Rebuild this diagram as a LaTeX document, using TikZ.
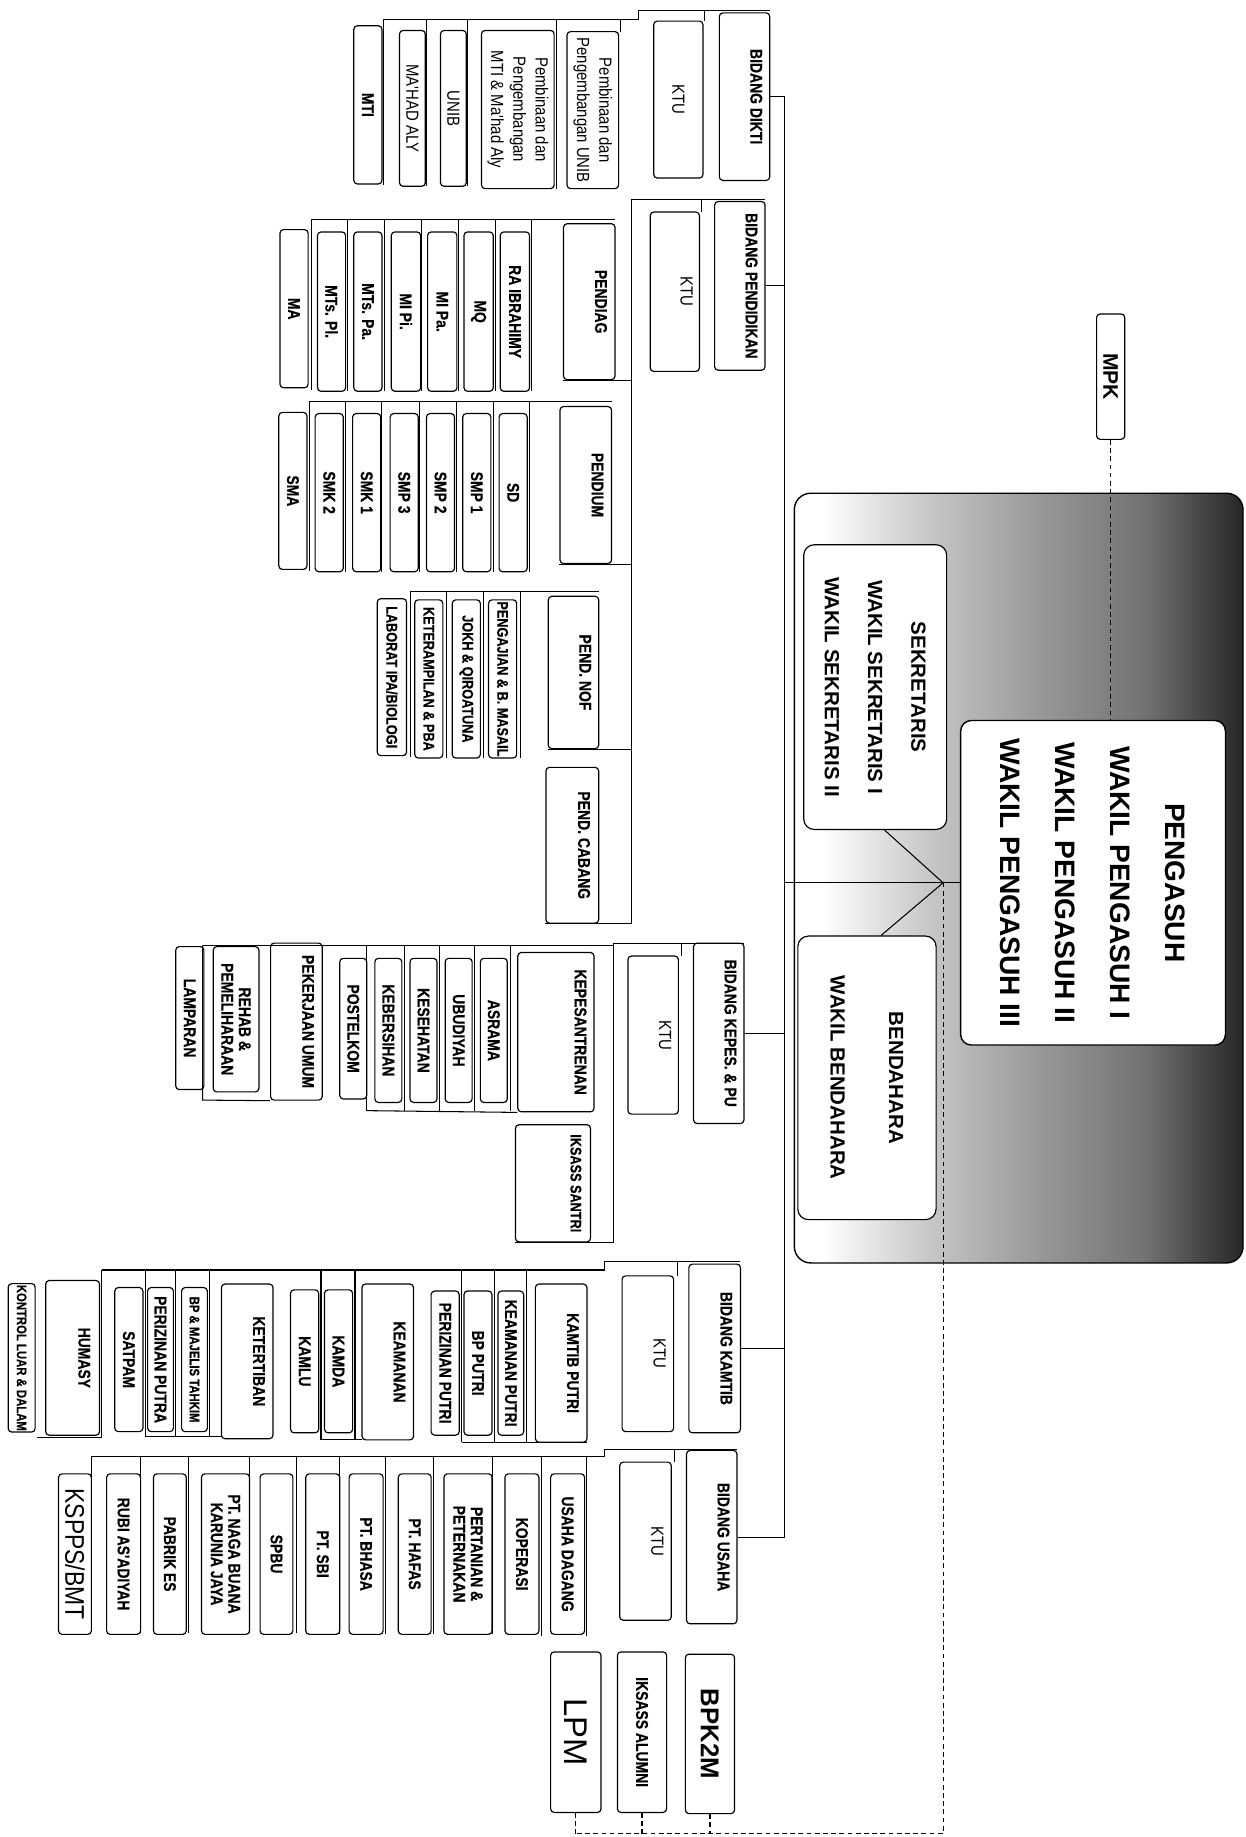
\documentclass[tikz,border=0pt]{standalone}
\usepackage{fontspec}
\newfontfamily\narrowfont[FakeStretch=0.82, FakeBold=0.4]{Liberation Sans}
\newfontfamily\plainfont[FakeStretch=0.85]{Liberation Sans}
\newfontfamily\headfont{Liberation Sans}
\usetikzlibrary{calc}
\pgfdeclarehorizontalshading{grayfade}{100bp}{color(0bp)=(white); color(28bp)=(white); color(40bp)=(black!22); color(52bp)=(black!40); color(64bp)=(black!55); color(75bp)=(black!85); color(100bp)=(black!85)}
\tikzset{
	unit/.style={draw, line width=1pt, rounded corners=3pt, rotate=-90, fill=white, inner sep=1pt, align=center, font=\narrowfont\bfseries\fontsize{14.5}{15}\selectfont},
	lifted/.style={text height=10pt, text depth=#1},
	tight/.style={font=\narrowfont\bfseries\fontsize{13.2}{14}\selectfont},
	tighter/.style={font=\narrowfont\bfseries\fontsize{11.8}{13}\selectfont},
	soft/.style={font=\plainfont\fontsize{15}{19}\selectfont},
	chief/.style={unit, rounded corners=9pt, line width=1.2pt, font=\headfont\bfseries\fontsize{24}{47}\selectfont},
	deputy/.style={unit, rounded corners=9pt, font=\headfont\bfseries\fontsize{17.5}{37}\selectfont},
	dashlink/.style={dash pattern=on 4pt off 3pt, line width=0.9pt}
}
\begin{document}
\begin{tikzpicture}[x=1pt, y=-1pt, line width=0.9pt]
	\useasboundingbox (0,0) rectangle (1063,1568);
	\fill[white] (0,0) rectangle (1063,1568);

	% pengasuh block
	\shadedraw[shading=grayfade, rounded corners=14pt, line width=1.2pt] (678,421) rectangle (1061,1078);
	\node[chief, minimum width=277, minimum height=226] (pengasuh) at (933,753.5) {PENGASUH\\WAKIL PENGASUH I\\WAKIL PENGASUH II\\WAKIL PENGASUH III};
	\node[deputy, minimum width=243, minimum height=122] (sekretaris) at (747,586.5) {SEKRETARIS\\WAKIL SEKRETARIS I\\WAKIL SEKRETARIS II};
	\node[deputy, font=\headfont\bfseries\fontsize{17.5}{50}\selectfont, minimum width=242, minimum height=118] (bendahara) at (740,920) {BENDAHARA\\WAKIL BENDAHARA};
	\node[unit, font=\headfont\bfseries\fontsize{18}{20}\selectfont, minimum width=107, minimum height=24] (mpk) at (948,321.5) {MPK};

	% bidang dikti
	\node[unit, lifted=20pt, minimum width=143, minimum height=43] (dikti) at (635.5,82.5) {BIDANG DIKTI};
	\node[unit, soft, minimum width=134, minimum height=42] (ktuA) at (579,85) {KTU};
	\node[unit, soft, minimum width=134, minimum height=44] (pembunib) at (506,94) {Pembinaan dan\\Pengembangan UNIB};
	\node[unit, soft, minimum width=135, minimum height=62] (pembmti) at (442,93.5) {Pembinaan dan\\Pengembangan\\MTI \& Ma'had Aly};
	\node[unit, soft, minimum width=133, minimum height=22] (unib) at (387,92.5) {UNIB};
	\node[unit, soft, minimum width=133, minimum height=22] (mahad) at (352,92.5) {MA'HAD ALY};
	\node[unit, minimum width=135, minimum height=24] (mti) at (314,89.5) {MTI};

	% bidang pendidikan
	\node[unit, lifted=20pt, minimum width=144, minimum height=43] (pendidikan) at (631.5,244) {BIDANG PENDIDIKAN};
	\node[unit, soft, lifted=20pt, minimum width=136, minimum height=42] (ktuB) at (576,249) {KTU};
	\node[unit, lifted=20pt, minimum width=133, minimum height=44] (pendiag) at (503,257.5) {PENDIAG};
	\node[unit, minimum width=136, minimum height=25] (ra) at (439.5,266) {RA IBRAHIMY};
	\node[unit, minimum width=136, minimum height=25] (mq) at (408.5,266) {MQ};
	\node[unit, minimum width=136, minimum height=25] (mipa) at (377.5,266) {MI Pa.};
	\node[unit, minimum width=136, minimum height=25] (mipi) at (346.5,266) {MI Pi.};
	\node[unit, minimum width=136, minimum height=24] (mtspa) at (314,266) {MTs. Pa.};
	\node[unit, minimum width=136, minimum height=24] (mtspl) at (283,266) {MTs. Pl.};
	\node[unit, minimum width=135, minimum height=24] (ma) at (251,263.5) {MA};
	\node[unit, lifted=20pt, minimum width=134, minimum height=44] (pendium) at (500,414) {PENDIUM};
	\node[unit, minimum width=135, minimum height=24] (sd) at (438,420.5) {SD};
	\node[unit, minimum width=135, minimum height=24] (smpa) at (407,420.5) {SMP 1};
	\node[unit, minimum width=135, minimum height=24] (smpb) at (376,420.5) {SMP 2};
	\node[unit, minimum width=135, minimum height=24] (smpc) at (345,420.5) {SMP 3};
	\node[unit, minimum width=135, minimum height=24] (smka) at (313,420.5) {SMK 1};
	\node[unit, minimum width=135, minimum height=24] (smkb) at (281,420.5) {SMK 2};
	\node[unit, minimum width=134, minimum height=24] (sma) at (250,419) {SMA};
	\node[unit, lifted=20pt, minimum width=130, minimum height=43] (pendnof) at (489.5,574) {PEND. NOF};
	\node[unit, tight, minimum width=135, minimum height=24] (pengajian) at (429,579.5) {PENGAJIAN \& B. MASAIL};
	\node[unit, tight, minimum width=135, minimum height=24] (jokh) at (398,579.5) {JOKH \& QIROATUNA};
	\node[unit, tight, minimum width=135, minimum height=24] (terampil) at (366,579.5) {KETERAMPILAN \& PBA};
	\node[unit, tight, minimum width=134, minimum height=25] (laborat) at (334.5,578) {LABORAT IPA/BIOLOGI};
	\node[unit, lifted=20pt, minimum width=133, minimum height=45] (pendcabang) at (488.5,721.5) {PEND. CABANG};

	% bidang kepesantrenan dan pu
	\node[unit, lifted=20pt, minimum width=154, minimum height=43] (kepes) at (613.5,882) {BIDANG KEPES. \& PU};
	\node[unit, soft, lifted=20pt, minimum width=135, minimum height=43] (ktuC) at (557.5,883.5) {KTU};
	\node[unit, lifted=42pt, minimum width=136, minimum height=65] (kepesantrenan) at (474.5,881) {KEPESANTRENAN};
	\node[unit, minimum width=123, minimum height=23] (asrama) at (421.5,879.5) {ASRAMA};
	\node[unit, minimum width=123, minimum height=23] (ubudiyah) at (391.5,879.5) {UBUDIYAH};
	\node[unit, minimum width=123, minimum height=23] (kesehatan) at (361.5,879.5) {KESEHATAN};
	\node[unit, minimum width=123, minimum height=23] (kebersihan) at (331.5,879.5) {KEBERSIHAN};
	\node[unit, minimum width=120, minimum height=23] (postelkom) at (301.5,878) {POSTELKOM};
	\node[unit, lifted=20pt, minimum width=134, minimum height=44] (pekerjaan) at (253,872) {PEKERJAAN UMUM};
	\node[unit, minimum width=124, minimum height=39] (rehab) at (201.5,870) {REHAB \&\\PEMELIHARAAN};
	\node[unit, minimum width=122, minimum height=24] (lamparan) at (162,869) {LAMPARAN};
	\node[unit, tight, lifted=40pt, minimum width=100, minimum height=64] (iksassS) at (472,1010) {IKSASS SANTRI};

	% bidang kamtib
	\node[unit, lifted=20pt, minimum width=144, minimum height=44] (kamtib) at (610,1151) {BIDANG KAMTIB};
	\node[unit, soft, lifted=20pt, minimum width=133, minimum height=44] (ktuD) at (553,1155.5) {KTU};
	\node[unit, lifted=20pt, minimum width=135, minimum height=44] (kamtibputri) at (479,1163.5) {KAMTIB PUTRI};
	\node[unit, minimum width=123, minimum height=22] (keamputri) at (436,1163.5) {KEAMANAN PUTRI};
	\node[unit, minimum width=123, minimum height=24] (bpputri) at (408,1163.5) {BP PUTRI};
	\node[unit, minimum width=123, minimum height=24] (perizputri) at (380,1163.5) {PERIZINAN PUTRI};
	\node[unit, lifted=20pt, minimum width=133, minimum height=44] (keamanan) at (331,1162.5) {KEAMANAN};
	\node[unit, minimum width=122, minimum height=24] (kamda) at (289,1162) {KAMDA};
	\node[unit, minimum width=122, minimum height=24] (kamlu) at (260,1162) {KAMLU};
	\node[unit, lifted=20pt, minimum width=132, minimum height=44] (ketertiban) at (211,1162) {KETERTIBAN};
	\node[unit, tighter, minimum width=123, minimum height=22] (bpmajelis) at (166,1160.5) {BP \& MAJELIS TAHKIM};
	\node[unit, minimum width=123, minimum height=22] (perizputra) at (137,1160.5) {PERIZINAN PUTRA};
	\node[unit, minimum width=123, minimum height=24] (satpam) at (110,1160.5) {SATPAM};
	\node[unit, lifted=20pt, minimum width=132, minimum height=46] (humasy) at (62,1159) {HUMASY};
	\node[unit, tighter, minimum width=124, minimum height=23] (kontrol) at (18.5,1159) {KONTROL LUAR \& DALAM};

	% bidang usaha
	\node[unit, lifted=20pt, minimum width=148, minimum height=43] (usaha) at (607.5,1312) {BIDANG USAHA};
	\node[unit, soft, lifted=20pt, minimum width=135, minimum height=44] (ktuE) at (551,1315.5) {KTU};
	\node[unit, minimum width=137, minimum height=29] (dagang) at (484.5,1326.5) {USAHA DAGANG};
	\node[unit, minimum width=137, minimum height=29] (koperasi) at (445.5,1326.5) {KOPERASI};
	\node[unit, minimum width=137, minimum height=41] (pertanian) at (399.5,1326.5) {PERTANIAN \&\\PETERNAKAN};
	\node[unit, minimum width=137, minimum height=28] (hafas) at (354,1326.5) {PT. HAFAS};
	\node[unit, minimum width=137, minimum height=29] (bhasa) at (312.5,1326.5) {PT. BHASA};
	\node[unit, minimum width=137, minimum height=29] (sbi) at (275.5,1326.5) {PT. SBI};
	\node[unit, minimum width=137, minimum height=28] (spbu) at (236,1326.5) {SPBU};
	\node[unit, minimum width=137, minimum height=41] (naga) at (192.5,1326.5) {PT. NAGA BUANA\\KARUNIA JAYA};
	\node[unit, minimum width=137, minimum height=28] (pabrik) at (145,1326.5) {PABRIK ES};
	\node[unit, minimum width=137, minimum height=29] (rubi) at (105.5,1326.5) {RUBI AS'ADIYAH};
	\node[unit, font=\plainfont\fontsize{23}{24}\selectfont, minimum width=137, minimum height=28] (kspps) at (64,1326.5) {KSPPS/BMT};

	% badan otonom
	\node[unit, font=\headfont\fontsize{28}{30}\selectfont, minimum width=137, minimum height=43] (lpm) at (491.5,1478.5) {LPM};
	\node[unit, minimum width=137, minimum height=42] (iksassA) at (548,1478.5) {IKSASS ALUMNI};
	\node[unit, font=\headfont\bfseries\fontsize{22}{24}\selectfont, minimum width=136, minimum height=42] (bpk2m) at (606,1480) {BPK2M};

	% trunk and links to pengasuh
	\coordinate (trunktop) at (670,82.5);
	\coordinate (trunkbot) at (670,1312);
	\coordinate (J) at (805,753.5);
	\coordinate (dashcorner) at (805,1565);
	\draw (trunktop) -- (trunkbot);
	\draw (dikti.north) -- (trunktop);
	\draw (pendidikan.north) -- (pendidikan.north -| trunktop);
	\draw (kepes.north) -- (kepes.north -| trunktop);
	\draw (kamtib.north) -- (kamtib.north -| trunktop);
	\draw (usaha.north) -- (trunkbot);
	\draw (pengasuh.south) -- (pengasuh.south -| trunktop);
	\draw ($(sekretaris.east)+(8,0)$) -- (J);
	\draw ($(bendahara.west)+(12,0)$) -- (J);
	\draw[dashlink] (mpk.east) -- (mpk.east |- pengasuh.west);
	\draw[dashlink] (J) -- (dashcorner) -- (dashcorner -| lpm.east);
	\draw[dashlink] (lpm.east) -- (lpm.east |- dashcorner);
	\draw[dashlink] (iksassA.east) -- (iksassA.east |- dashcorner);
	\draw[dashlink] (bpk2m.east) -- (bpk2m.east |- dashcorner);

	% frames dikti
	\draw (327,17) -- (545,17) -- (545,9) -- (657,9);
	\draw (601,9) -- (601,18) (530,17) -- (530,27);
	\draw (327,17) -- (327,158) (364,17) -- (364,159) (399,17) -- (399,159) (475,17) -- (475,161);

	% frames pendidikan
	\coordinate (busB) at (539,170);
	\draw (busB) -- (653,170) (599,170) -- (599,181);
	\draw (busB) -- (busB |- pendcabang.south east);
	\draw (266,187) -- (525,187);
	\draw (266,187) -- (266,333) (297,187) -- (297,334) (328,187) -- (328,334) (360,187) -- (360,334)
		(391,187) -- (391,334) (423,187) -- (423,334) (454,187) -- (454,334);
	\draw (pendiag.south east) -- (pendiag.south east -| busB);
	\draw (264,343) -- (522,343);
	\draw (264,343) -- (264,487) (295,343) -- (295,488) (326,343) -- (326,488) (358,343) -- (358,488)
		(390,343) -- (390,488) (421,343) -- (421,488) (452,343) -- (452,488);
	\draw (pendium.south east) -- (pendium.south east -| busB);
	\draw (350,505) -- (511,505);
	\draw (350,505) -- (350,646) (381,505) -- (381,647) (413,505) -- (413,647) (444,505) -- (444,647);
	\draw (pendnof.south east) -- (pendnof.south east -| busB);
	\draw (pendcabang.south east) -- (pendcabang.south east -| busB);

	% frames kepes
	\coordinate (busC) at (524,805);
	\draw (busC) -- (635,805) (582,805) -- (582,816);
	\draw (busC) -- (busC |- iksassS.south east);
	\draw (173,807) -- (524,807);
	\draw (313,807) -- (313,948) (345,807) -- (345,948) (375,807) -- (375,948) (405,807) -- (405,948) (436,807) -- (436,948);
	\draw (313,948) -- (kepesantrenan.south east);
	\draw (173,807) -- (173,939) -- (pekerjaan.south east);
	\draw (iksassS.south east) -- (iksassS.south east -| busC);

	% frames kamtib
	\draw (516,1084) -- (516,1077) -- (632,1077) (578,1077) -- (578,1089);
	\draw (87,1084) -- (516,1084);
	\draw (394,1084) -- (394,1231) (422,1084) -- (422,1231) (449,1084) -- (449,1231);
	\draw (394,1231) -- (501,1231);
	\draw (274,1084) -- (274,1229) (303,1084) -- (303,1229);
	\draw (274,1229) -- (309,1229);
	\draw (124,1084) -- (124,1226) (150,1084) -- (150,1226) (179,1084) -- (179,1226);
	\draw (124,1226) -- (189,1226);
	\draw (87,1084) -- (87,1227) -- (32,1227);

	% frames usaha
	\draw (516,1243) -- (516,1237) -- (629,1237) (576,1237) -- (576,1248);
	\draw (78,1243) -- (516,1243);
	\draw (78,1243) -- (78,1393) (120,1243) -- (120,1394) (161,1243) -- (161,1394) (213,1243) -- (213,1394)
		(253,1243) -- (253,1394) (290,1243) -- (290,1395) (329,1243) -- (329,1395) (370,1243) -- (370,1395)
		(420,1243) -- (420,1395) (462,1243) -- (462,1396) (501,1243) -- (501,1396);
\end{tikzpicture}
\end{document}
